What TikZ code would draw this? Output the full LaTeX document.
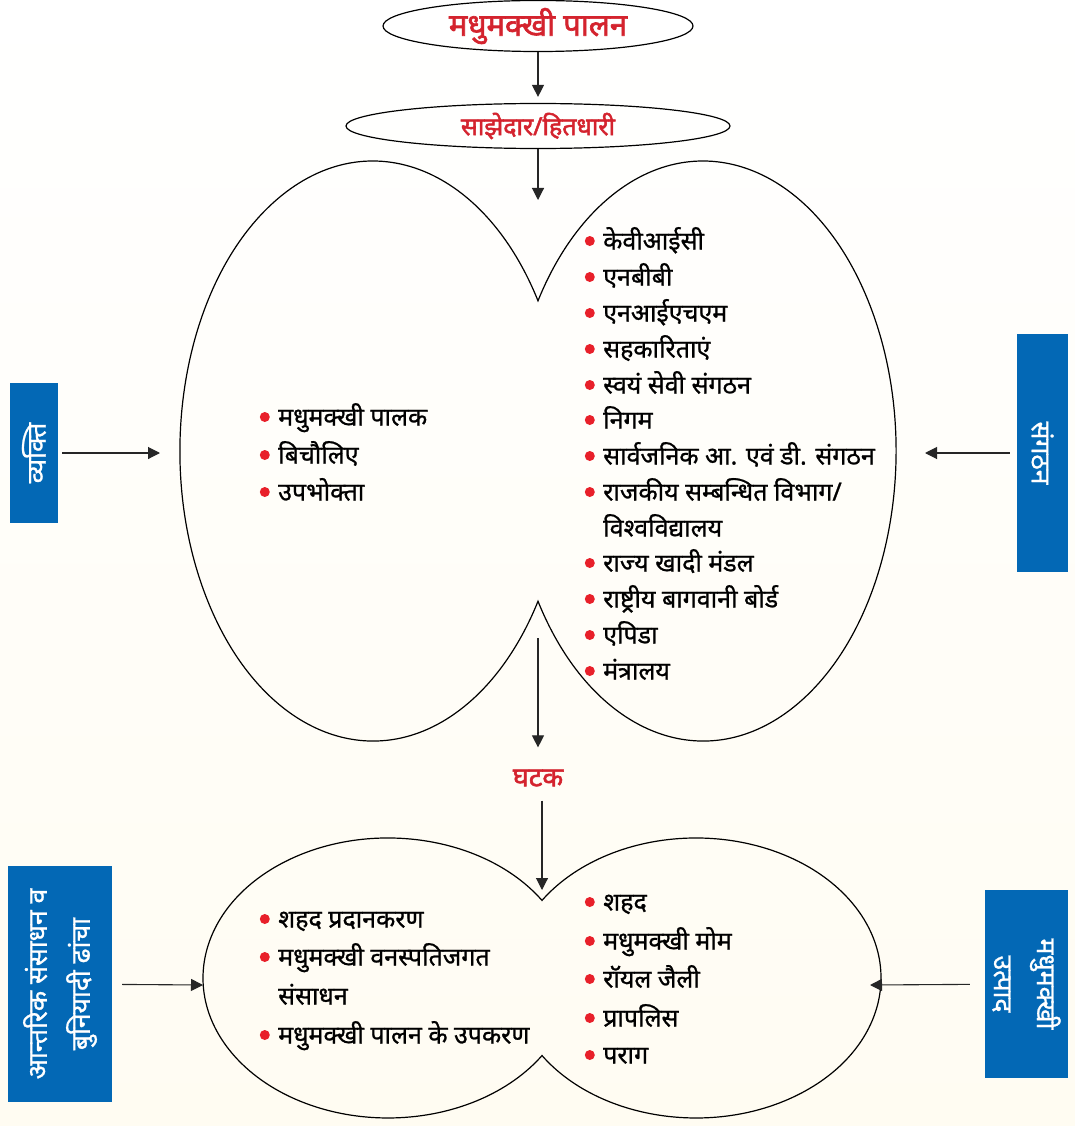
\documentclass[tikz,border=0pt]{standalone}
\usepackage{fontspec}
\newfontfamily\dev[Script=Devanagari, FakeBold=0.9]{Noto Sans}
\newfontfamily\devb[Script=Devanagari, FakeBold=2]{Noto Sans}
\usetikzlibrary{arrows.meta, calc, positioning, shapes.geometric}
\definecolor{hred}{RGB}{212,35,46}
\definecolor{dotred}{RGB}{232,32,42}
\definecolor{hblue}{RGB}{3,104,181}
\definecolor{cream}{RGB}{255,252,242}

\begin{document}
\begin{tikzpicture}[x=1pt, y=1pt, font=\dev,
    oval/.style = {draw, ellipse, line width=1.2pt, inner sep=0pt, text=hred},
    arr/.style = {-{Triangle[length=12pt, width=12pt]}, line width=1.1pt, draw=black!85},
    bluebox/.style = {fill=hblue, text=white, align=center, inner sep=0pt, font=\dev\fontsize{26.5}{43}\selectfont},
    pt/.style = {anchor=west, inner sep=0pt, text height=22pt, text depth=5pt, font=\dev\fontsize{25}{29}\selectfont,
        label={[fill=dotred, circle, inner sep=0pt, minimum size=10pt, xshift=-8pt]left:{}}},
    ptc/.style = {anchor=west, inner sep=0pt, text height=22pt, text depth=5pt, font=\dev\fontsize{25}{29}\selectfont}]
    \useasboundingbox (0,0) rectangle (1075,-1126);
    \shade[top color=white, bottom color=cream] (0,0) rectangle (1075,-1126);

    % top part
    \node[oval, minimum width=310pt, minimum height=48pt, font=\devb\fontsize{31}{36}\selectfont] (title) at (538,-26) {मधुमक्खी पालन};
    \node[oval, minimum width=384pt, minimum height=45pt, font=\devb\fontsize{25}{30}\selectfont] (partner) at (538,-126) {साझेदार/हितधारी};
    \coordinate (top) at (538,-200);
    \draw[arr, shorten >=6pt] (title) -- (partner);
    \draw[arr] (partner) -- (top);

    % upper shape
    \draw[line width=1.2pt] (538,-300.8)
        arc[start angle=31.2, end angle=328.8, x radius=193pt, y radius=290pt]
        arc[start angle=211.2, end angle=508.8, x radius=193pt, y radius=290pt] -- cycle;

    \node[pt] (l1) at (278,-417) {मधुमक्खी पालक};
    \node[pt] (l2) at (278,-455) {बिचौलिए};
    \node[pt] (l3) at (278,-492) {उपभोक्ता};

    \node[pt] (r1) at (603,-241) {केवीआईसी};
    \node[pt] (r2) at (603,-277) {एनबीबी};
    \node[pt] (r3) at (603,-313) {एनआईएचएम};
    \node[pt] (r4) at (603,-349) {सहकारिताएं};
    \node[pt] (r5) at (603,-385) {स्वयं सेवी संगठन};
    \node[pt] (r6) at (603,-420) {निगम};
    \node[pt] (r7) at (603,-456) {सार्वजनिक आ. एवं डी. संगठन};
    \node[pt] (r8) at (603,-492) {राजकीय सम्बन्धित विभाग/};
    \node[ptc] (r8b) at (603,-528) {विश्वविद्यालय};
    \node[pt] (r9) at (603,-563) {राज्य खादी मंडल};
    \node[pt] (r10) at (603,-599) {राष्ट्रीय बागवानी बोर्ड};
    \node[pt] (r11) at (603,-635) {एपिडा};
    \node[pt] (r12) at (603,-671) {मंत्रालय};

    % side boxes, upper
    \node[bluebox, rotate=90, minimum width=140pt, minimum height=48pt] (vyakti) at (34,-453) {व्यक्ति};
    \node[bluebox, rotate=-90, minimum width=238pt, minimum height=51pt] (sangathan) at (1042.5,-453) {संगठन};
    \coordinate (hl) at (160,-453);
    \coordinate (hr) at (925,-453);
    \draw[arr, shorten <=4pt] (vyakti) -- (hl);
    \draw[arr, shorten <=7pt] (sangathan) -- (hr);

    % middle
    \coordinate (hb) at (538,-638);
    \node[font=\devb\fontsize{27}{32}\selectfont, text=hred, inner sep=0pt] (ghatak) at (538,-778) {घटक};
    \coordinate (lt) at (542,-890);
    \draw[arr, shorten >=22pt] (hb) -- (hb |- ghatak.north);
    \draw[arr, shorten <=14pt] (lt |- ghatak.south) -- (lt);

    % lower shape
    \draw[line width=1.2pt] (542,-900.4)
        arc[start angle=33.65, end angle=326.35, x radius=185pt, y radius=140pt]
        arc[start angle=213.65, end angle=506.35, x radius=185pt, y radius=140pt] -- cycle;

    \node[pt] (a1) at (278,-919) {शहद प्रदानकरण};
    \node[pt] (a2) at (278,-957) {मधुमक्खी वनस्पतिजगत};
    \node[ptc] (a2b) at (278,-996) {संसाधन};
    \node[pt] (a3) at (278,-1035) {मधुमक्खी पालन के उपकरण};

    \node[pt] (p1) at (603,-902) {शहद};
    \node[pt] (p2) at (603,-941) {मधुमक्खी मोम};
    \node[pt] (p3) at (603,-979) {रॉयल जैली};
    \node[pt] (p4) at (603,-1018) {प्रापलिस};
    \node[pt] (p5) at (603,-1055) {पराग};

    % side boxes, lower
    \node[bluebox, rotate=90, minimum width=236pt, minimum height=104pt] (aantarik) at (60,-984) {आन्तरिक संसाधन व\\बुनियादी ढांचा};
    \node[bluebox, rotate=-90, minimum width=188pt, minimum height=83pt] (utpad) at (1026.5,-984) {मधुमक्खी\\उत्पाद};
    \coordinate (ll) at (203,-985);
    \coordinate (lr) at (870,-985);
    \draw[arr, shorten <=10pt] (aantarik) -- (ll);
    \draw[arr, shorten <=15pt] (utpad) -- (lr);
\end{tikzpicture}
\end{document}
